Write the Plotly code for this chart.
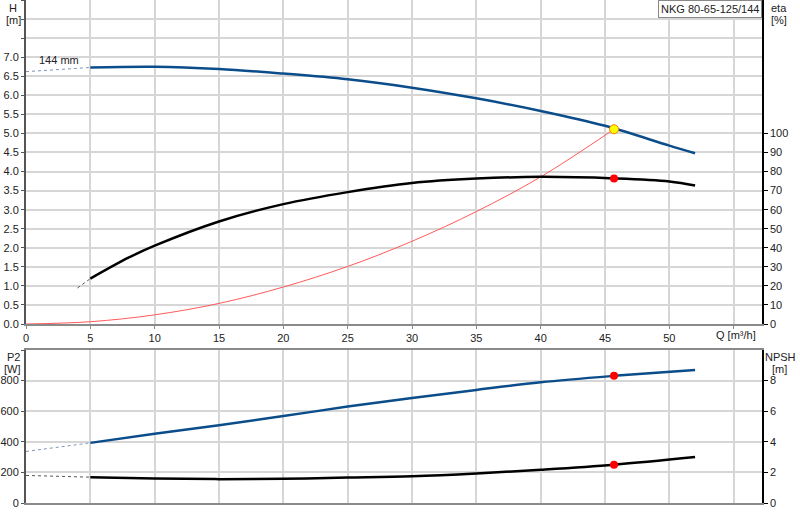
import plotly.graph_objects as go

# ---------------- data ----------------
# pump curve H (m) vs Q (m3/h)
q_h = [5, 10, 15, 20, 25, 30, 35, 40, 45, 50, 52]
h_vals = [6.73, 6.75, 6.69, 6.57, 6.42, 6.20, 5.92, 5.59, 5.20, 4.68, 4.48]
q_h_ext = [0, 5]
h_ext = [6.62, 6.73]

# efficiency eta (%)
q_eta = [5, 8, 10, 15, 20, 25, 30, 35, 40, 45.7, 50, 52]
eta_vals = [23.8, 34.9, 41.1, 53.8, 62.9, 69.2, 74.0, 76.3, 77.2, 76.4, 74.8, 72.7]
q_eta_ext = [4, 5]
eta_ext = [18.9, 23.8]

# system curve (m)
q_sys = [0, 5, 10, 15, 20, 25, 30, 35, 40, 45.7]
h_sys = [0, 0.06, 0.24, 0.54, 0.97, 1.51, 2.17, 2.95, 3.86, 5.11]

# duty point & requested point
duty_q = [45.7]
duty_h = [5.11]
duty_eta = [76.4]
req_q = [47.0]
req_h = [5.40]

# power P2 (W)
q_p = [5, 10, 15, 20, 25, 30, 35, 40, 45.7, 52]
p2_vals = [393, 452, 508, 568, 630, 686, 739, 789, 831, 870]
q_p_ext = [0, 5]
p2_ext = [337, 393]
duty_p2 = [831]

# NPSH (m)
q_n = [5, 10, 15, 20, 25, 30, 35, 40, 45.7, 52]
npsh_vals = [1.69, 1.60, 1.56, 1.58, 1.66, 1.75, 1.93, 2.17, 2.50, 3.00]
q_n_ext = [0, 5]
npsh_ext = [1.80, 1.69]
duty_npsh = [2.50]

x_ticks = [0, 5, 10, 15, 20, 25, 30, 35, 40, 45, 50, 55]
x_ticktext = ["0", "5", "10", "15", "20", "25", "30", "35", "40", "45", "50", ""]
h_ticks = [i * 0.5 for i in range(18)]
h_ticktext = ["%.1f" % v if v <= 7.0 else "" for v in h_ticks]
eta_ticks = list(range(0, 101, 10))
p2_ticks = [0, 200, 400, 600, 800, 1000]
p2_ticktext = ["0", "200", "400", "600", "800", ""]
npsh_ticks = [0, 2, 4, 6, 8]

BLUE = "#0b4d8a"
FONT = "Liberation Sans"

fig = go.Figure()

# top plot
fig.add_trace(go.Scatter(x=q_h_ext, y=h_ext, mode="lines",
                         line=dict(color="#7f93b8", width=1, dash="dot"),
                         xaxis="x", yaxis="y"))
fig.add_trace(go.Scatter(x=q_h, y=h_vals, mode="lines", line_shape="spline",
                         line=dict(color=BLUE, width=2.5), xaxis="x", yaxis="y"))
fig.add_trace(go.Scatter(x=q_sys, y=h_sys, mode="lines", line_shape="spline",
                         line=dict(color="#ff5a5a", width=1), xaxis="x", yaxis="y"))
fig.add_trace(go.Scatter(x=q_eta_ext, y=eta_ext, mode="lines",
                         line=dict(color="#555555", width=1, dash="dot"),
                         xaxis="x", yaxis="y2"))
fig.add_trace(go.Scatter(x=q_eta, y=eta_vals, mode="lines", line_shape="spline",
                         line=dict(color="black", width=2.5), xaxis="x", yaxis="y2"))
fig.add_trace(go.Scatter(x=duty_q, y=duty_eta, mode="markers",
                         marker=dict(color="#ff0000", size=8), xaxis="x", yaxis="y2"))
fig.add_trace(go.Scatter(x=req_q, y=req_h, mode="markers",
                         marker=dict(color="rgba(0,0,0,0)", size=8, symbol="circle-open",
                                     line=dict(color="#ff5a5a", width=1)),
                         xaxis="x", yaxis="y"))
fig.add_trace(go.Scatter(x=duty_q, y=duty_h, mode="markers",
                         marker=dict(color="#ffff00", size=9,
                                     line=dict(color="#ff7a00", width=1)),
                         xaxis="x", yaxis="y"))

# bottom plot
fig.add_trace(go.Scatter(x=q_p_ext, y=p2_ext, mode="lines",
                         line=dict(color="#7f93b8", width=1, dash="dot"),
                         xaxis="x2", yaxis="y3"))
fig.add_trace(go.Scatter(x=q_p, y=p2_vals, mode="lines", line_shape="spline",
                         line=dict(color=BLUE, width=2.5), xaxis="x2", yaxis="y3"))
fig.add_trace(go.Scatter(x=duty_q, y=duty_p2, mode="markers",
                         marker=dict(color="#ff0000", size=8), xaxis="x2", yaxis="y3"))
fig.add_trace(go.Scatter(x=q_n_ext, y=npsh_ext, mode="lines",
                         line=dict(color="#555555", width=1, dash="dot"),
                         xaxis="x2", yaxis="y4"))
fig.add_trace(go.Scatter(x=q_n, y=npsh_vals, mode="lines", line_shape="spline",
                         line=dict(color="black", width=2.5), xaxis="x2", yaxis="y4"))
fig.add_trace(go.Scatter(x=duty_q, y=duty_npsh, mode="markers",
                         marker=dict(color="#ff0000", size=8), xaxis="x2", yaxis="y4"))

ML, MR, MT, MB = 26, 38, 0, 17
W, H = 800, 520
PW, PH = W - ML - MR, H - MT - MB


def px(xp):
    return (xp - ML) / PW


def py(yp):
    return (H - MB - yp) / PH


GRID = "#d6d6d6"
tickfont = dict(family=FONT, size=11, color="#222222")

fig.update_layout(
    width=W, height=H,
    margin=dict(l=ML, r=MR, t=MT, b=MB, pad=0, autoexpand=False),
    paper_bgcolor="white", plot_bgcolor="white",
    showlegend=False,
    font=dict(family=FONT, size=11, color="#222222"),
    xaxis=dict(domain=[0, 1], anchor="y", range=[0, 57.2],
               tickvals=x_ticks, ticktext=x_ticktext, showgrid=True,
               gridcolor=GRID, gridwidth=1.5, zeroline=False,
               showline=True, linecolor="#8a8a8a", linewidth=2,
               ticks="outside", ticklen=3, tickcolor="#8a8a8a", tickfont=tickfont),
    yaxis=dict(domain=[py(324), 1], anchor="x", range=[0, 8.5],
               tickvals=h_ticks, ticktext=h_ticktext, showgrid=True,
               gridcolor=GRID, gridwidth=1.5, zeroline=False,
               showline=True, linecolor="#555555", linewidth=2,
               ticks="outside", ticklen=3, tickcolor="#555555", tickfont=tickfont),
    yaxis2=dict(overlaying="y", side="right", anchor="x", range=[0, 170],
                tickvals=eta_ticks, showgrid=False, zeroline=False,
                showline=True, linecolor="black", linewidth=1.5,
                ticks="outside", ticklen=4, tickcolor="black", tickfont=tickfont),
    xaxis2=dict(domain=[0, 1], anchor="y3", range=[0, 57.2], matches="x",
                tickvals=x_ticks, showticklabels=False, showgrid=True,
                gridcolor=GRID, gridwidth=1.5, zeroline=False,
                showline=True, linecolor="#8a8a8a", linewidth=2, mirror=True,
                ticks=""),
    yaxis3=dict(domain=[0, py(350)], anchor="x2", range=[0, 1000],
                tickvals=p2_ticks, ticktext=p2_ticktext, showgrid=True,
                gridcolor=GRID, gridwidth=1.5, zeroline=False,
                showline=True, linecolor="#555555", linewidth=2,
                ticks="outside", ticklen=3, tickcolor="#555555", tickfont=tickfont),
    yaxis4=dict(overlaying="y3", side="right", anchor="x2", range=[0, 10],
                tickvals=npsh_ticks, showgrid=False, zeroline=False,
                showline=True, linecolor="black", linewidth=1.5,
                ticks="outside", ticklen=4, tickcolor="black", tickfont=tickfont),
)

ann = []


def label(text, xp, yp, xanchor="center"):
    ann.append(dict(text=text, x=px(xp), y=py(yp), xref="paper", yref="paper",
                    showarrow=False, xanchor=xanchor, yanchor="middle",
                    font=dict(family=FONT, size=11, color="#222222")))


label("H", 13, 8)
label("[m]", 13, 20)
label("eta", 779, 8)
label("[%]", 779, 20)
label("P2", 13, 357)
label("[W]", 12, 369)
label("NPSH", 780, 357)
label("[m]", 779, 369)
label("Q [m³/h]", 758, 335, xanchor="right")

ann.append(dict(text="144 mm", x=2.6, y=6.93, xref="x", yref="y",
                showarrow=False, xanchor="center", yanchor="middle",
                font=dict(family=FONT, size=11, color="#222222")))

ann.append(dict(text="NKG 80-65-125/144", x=1, y=1, xref="paper", yref="paper",
                showarrow=False, xanchor="right", yanchor="top",
                bgcolor="white", bordercolor="#888888", borderwidth=1, borderpad=2,
                font=dict(family=FONT, size=11, color="#222222")))

fig.update_layout(annotations=ann)

fig.write_html("out.html",
               config={"displayModeBar": False},
               post_script="document.body.style.margin='0';document.body.style.padding='0';")
